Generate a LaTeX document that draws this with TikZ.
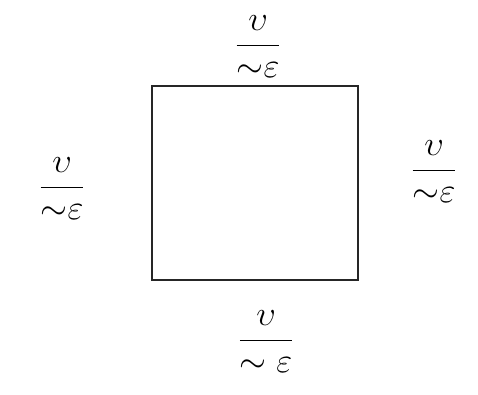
\documentclass[tikz,border=0pt]{standalone}
\usepackage{amsmath}
\tikzset{
  boxsq/.style={draw=black!85, line width=2pt, minimum width=206pt, minimum height=194pt, inner sep=0pt},
  lab/.style={inner sep=0pt, scale=2.0, font=\LARGE}
}
\begin{document}
\begin{tikzpicture}[x=1pt,y=1pt]
\useasboundingbox[fill=white] (0,0) rectangle (478,394);
\node[boxsq] (sq) at (255,211) {};
\node[lab] (top) at (258,347) {$\dfrac{\upsilon}{{\sim}\varepsilon}$};
\node[lab] (left) at (62,205) {$\dfrac{\upsilon}{{\sim}\varepsilon}$};
\node[lab] (right) at (434,222) {$\dfrac{\upsilon}{{\sim}\varepsilon}$};
\node[lab] (bottom) at (266,52) {$\dfrac{\upsilon}{{\sim}\;\varepsilon}$};
\end{tikzpicture}
\end{document}
